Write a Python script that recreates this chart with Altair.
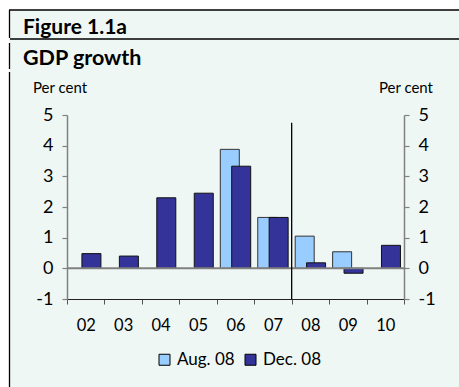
import altair as alt
import pandas as pd

# ---- data ----
years = ["02", "03", "04", "05", "06", "07", "08", "09", "10"]
aug08 = [None, None, None, None, 3.88, 1.66, 1.05, 0.54, None]
dec08 = [0.48, 0.40, 2.30, 2.45, 3.33, 1.66, 0.18, -0.16, 0.75]
series_names = ["Aug. 08", "Dec. 08"]
series_colors = ["#99ccff", "#333399"]
y_ticks = [-1, 0, 1, 2, 3, 4, 5]
split_year = ["08"]
split_bottom = [-1]
split_top = [4.75]
zero_level = [0]
fig_label = ["Figure 1.1a"]
fig_title = ["GDP growth"]
unit_label = ["Per cent"]

FONT = "Lato"
MINT = "#eff7f4"

rows = []
for yr, a, d in zip(years, aug08, dec08):
    if a is not None:
        rows.append({"year": yr, "series": series_names[0], "value": a, "base": 0})
    if d is not None:
        rows.append({"year": yr, "series": series_names[1], "value": d, "base": 0})
df = pd.DataFrame(rows)

xscale = alt.Scale(domain=years, paddingInner=0, paddingOuter=0)
yscale = alt.Scale(domain=[-1, 5], nice=False, zero=False)
cscale = alt.Scale(domain=series_names, range=series_colors)

one = pd.DataFrame({"a": [0]})

def rule(**enc):
    return alt.Chart(one).mark_rule(color="#000", strokeWidth=1.3).encode(**enc)

bg = alt.Chart(one).mark_rect(color=MINT).encode(
    x=alt.value(-58), x2=alt.value(392), y=alt.value(-105), y2=alt.value(272))
hline1 = rule(x=alt.value(-58), x2=alt.value(392), y=alt.value(-105))
hline2 = rule(x=alt.value(-57), x2=alt.value(392), y=alt.value(-76))
vl1 = rule(x=alt.value(-57.5), y=alt.value(-105), y2=alt.value(-77))
vl2 = rule(x=alt.value(-57.5), y=alt.value(-72), y2=alt.value(-46))
vl3 = rule(x=alt.value(-57.5), y=alt.value(-43), y2=alt.value(272))

legend = alt.Legend(
    title=None, orient="none", legendX=89, legendY=236, direction="horizontal",
    symbolType="square", symbolSize=121, symbolStrokeColor="#000",
    symbolStrokeWidth=1, labelFont=FONT, labelFontSize=17, labelColor="#000",
    labelOffset=4, columnPadding=7, padding=0, symbolOffset=0)

x_axis = alt.Axis(title=None, orient="bottom", labelAngle=0, labelFont=FONT,
                  labelFontSize=16.5, labelColor="#000", labelPadding=13,
                  tickBand="extent", tickSize=5, tickColor="#555",
                  domainColor="#222", domainWidth=1.2, grid=False, zindex=1)

def yaxis(orient):
    return alt.Axis(title=None, orient=orient, values=y_ticks,
                    labelExpr="'' + datum.value", labelFont=FONT,
                    labelFontSize=18, labelColor="#000", labelPadding=9,
                    tickSize=5, tickColor="#808080", domainColor="#808080",
                    domainWidth=1.5, tickWidth=1.2, grid=False, zindex=1)

X = alt.X("year:N", scale=xscale, axis=x_axis, sort=years)

base = alt.Chart(df)

bars_aug = base.transform_filter(alt.datum.series == series_names[0]).mark_bar(
    width=19, xOffset=-5.7, stroke="#333", strokeWidth=1).encode(
    x=X,
    y=alt.Y("value:Q", scale=yscale, axis=yaxis("left")),
    y2=alt.Y2("base:Q"),
    color=alt.Color("series:N", scale=cscale, legend=legend))

bars_dec = base.transform_filter(alt.datum.series == series_names[1]).mark_bar(
    width=19, xOffset=5.7, stroke="#111", strokeWidth=1).encode(
    x=X,
    y=alt.Y("value:Q", scale=yscale, axis=yaxis("right")),
    y2=alt.Y2("base:Q"),
    color=alt.Color("series:N", scale=cscale, legend=legend))

zero = alt.Chart(pd.DataFrame({"z": zero_level})).mark_rule(
    color="#808080", strokeWidth=2).encode(
    y=alt.Y("z:Q", scale=yscale, axis=None), x=alt.value(0), x2=alt.value(337))

split = alt.Chart(pd.DataFrame({"year": split_year, "bottom": split_bottom,
                                "top": split_top})).mark_rule(
    color="#000", strokeWidth=1.3).encode(
    x=alt.X("year:N", scale=xscale, axis=x_axis, sort=years, bandPosition=0),
    y=alt.Y("bottom:Q", scale=yscale, axis=None), y2=alt.Y2("top:Q"))

t1 = alt.Chart(pd.DataFrame({"t": fig_label})).mark_text(
    align="left", baseline="alphabetic", font=FONT, fontSize=21,
    fontWeight="bold", color="#000").encode(
    x=alt.value(-44), y=alt.value(-81.5), text="t:N")
t2 = alt.Chart(pd.DataFrame({"t": fig_title})).mark_text(
    align="left", baseline="alphabetic", font=FONT, fontSize=21.5,
    fontWeight="bold", color="#000").encode(
    x=alt.value(-44), y=alt.value(-50.5), text="t:N")
u1 = alt.Chart(pd.DataFrame({"t": unit_label})).mark_text(
    align="left", baseline="alphabetic", font=FONT, fontSize=15,
    color="#000").encode(x=alt.value(-34), y=alt.value(-22), text="t:N")
u2 = alt.Chart(pd.DataFrame({"t": unit_label})).mark_text(
    align="right", baseline="alphabetic", font=FONT, fontSize=15,
    color="#000").encode(x=alt.value(366), y=alt.value(-22), text="t:N")

chart = alt.layer(
    bg, hline1, hline2, vl1, vl2, vl3, bars_aug, bars_dec, zero, split,
    t1, t2, u1, u2
).properties(
    width=337, height=184,
    padding={"left": 67, "top": 115, "right": 55, "bottom": 88},
    autosize=alt.AutoSizeParams(type="none"),
).configure(background="#ffffff").configure_view(stroke=None)

chart.save("out.html", embed_options={"renderer": "svg", "actions": False})
